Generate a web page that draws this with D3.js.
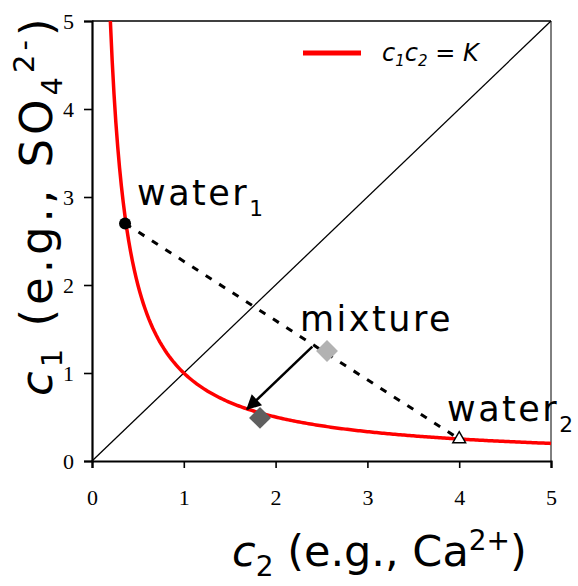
<!DOCTYPE html>
<html>
<head>
<meta charset="utf-8">
<script src="https://cdn.jsdelivr.net/npm/d3@7"></script>
<style>
  html, body { margin: 0; padding: 0; background: #fff; }
  svg { display: block; }
  .lbl { font-family: "Comic Sans MS", "DejaVu Sans", sans-serif; fill: #000; }
  svg g.tick text { font-family: "Liberation Serif", "Times New Roman", serif !important; font-size: 22px !important; fill: #000; }
</style>
</head>
<body>
<svg id="chart" width="578" height="586"></svg>
<script>
// Axis ticks
const xTicks = [0, 1, 2, 3, 4, 5];
const yTicks = [0, 1, 2, 3, 4, 5];

// Solubility product curve c1 * c2 = K
const K = 1;
const curveX = d3.range(0.2, 5.0001, 0.02);

// End-member waters and their mixture
const water1 = [0.36, 2.70];
const water2 = [4.0, 0.25];
const mixture = [2.56, 1.25];
const precipitated = [1.83, 0.49];
const arrowFrom = [2.40, 1.30];
const arrowTo = [1.69, 0.59];

const svg = d3.select("#chart");
const x = d3.scaleLinear().domain([0, 5]).range([92, 551]);
const y = d3.scaleLinear().domain([0, 5]).range([461, 21]);

// frame: top and right borders
svg.append("line").attr("x1", x(0)).attr("x2", x(5)).attr("y1", y(5)).attr("y2", y(5))
  .attr("stroke", "#000").attr("stroke-width", 1.5);
svg.append("line").attr("x1", x(5)).attr("x2", x(5)).attr("y1", y(0)).attr("y2", y(5))
  .attr("stroke", "#000").attr("stroke-width", 1);

// 1:1 line
svg.append("line").attr("x1", x(0)).attr("y1", y(0)).attr("x2", x(5)).attr("y2", y(5))
  .attr("stroke", "#000").attr("stroke-width", 1.3);

// axes
const xAxis = svg.append("g").attr("transform", `translate(0,${y(0)})`)
  .call(d3.axisBottom(x).tickValues(xTicks).tickSize(7).tickPadding(21).tickFormat(d3.format("d")));
const yAxis = svg.append("g").attr("transform", `translate(${x(0)},0)`)
  .call(d3.axisLeft(y).tickValues(yTicks).tickSize(8).tickPadding(10).tickFormat(d3.format("d")));
[xAxis, yAxis].forEach(g => {
  g.attr("font-family", "Liberation Serif").attr("font-size", 22);
  g.select(".domain").attr("stroke-width", 2.2);
  g.selectAll(".tick line").attr("stroke-width", 1.6);
  g.selectAll(".tick text")
    .attr("font-family", "Liberation Serif")
    .attr("font-size", 22)
    .attr("fill", "#000");
});

// mixing line between the two waters
svg.append("line")
  .attr("x1", x(water1[0])).attr("y1", y(water1[1]))
  .attr("x2", x(water2[0])).attr("y2", y(water2[1]))
  .attr("stroke", "#000").attr("stroke-width", 3).attr("stroke-dasharray", "7,9");

// K curve
const line = d3.line().x(d => x(d)).y(d => y(K / d));
svg.append("path").datum(curveX).attr("d", line)
  .attr("fill", "none").attr("stroke", "#ff0000").attr("stroke-width", 3.5);

// arrow from mixture to precipitated composition
svg.append("defs").append("marker")
  .attr("id", "ah").attr("viewBox", "0 0 10 10").attr("refX", 9).attr("refY", 5)
  .attr("markerWidth", 7).attr("markerHeight", 6).attr("orient", "auto")
  .attr("markerUnits", "strokeWidth")
  .append("path").attr("d", "M0,0 L10,5 L0,10 Z").attr("fill", "#000");
svg.append("line")
  .attr("x1", x(arrowFrom[0])).attr("y1", y(arrowFrom[1]))
  .attr("x2", x(arrowTo[0])).attr("y2", y(arrowTo[1]))
  .attr("stroke", "#000").attr("stroke-width", 2.5).attr("marker-end", "url(#ah)");

// points
const sym = d3.symbol();
svg.append("circle").attr("cx", x(water1[0])).attr("cy", y(water1[1])).attr("r", 6).attr("fill", "#000");
svg.append("path").attr("d", sym.type(d3.symbolSquare).size(240)())
  .attr("transform", `translate(${x(mixture[0])},${y(mixture[1])}) rotate(45)`)
  .attr("fill", "#b2b2b2");
svg.append("path").attr("d", sym.type(d3.symbolSquare).size(240)())
  .attr("transform", `translate(${x(precipitated[0])},${y(precipitated[1])}) rotate(45)`)
  .attr("fill", "#5f5f5f");
svg.append("path").attr("d", sym.type(d3.symbolTriangle).size(70)())
  .attr("transform", `translate(${x(water2[0])},${y(water2[1])})`)
  .attr("fill", "#fff").attr("stroke", "#000").attr("stroke-width", 1.5);

// legend
svg.append("line").attr("x1", 303).attr("x2", 361).attr("y1", 53).attr("y2", 53)
  .attr("stroke", "#ff0000").attr("stroke-width", 5);
const leg = svg.append("text").attr("class", "lbl").attr("x", 382).attr("y", 61)
  .attr("font-size", 24).attr("font-style", "italic");
leg.append("tspan").text("c");
leg.append("tspan").attr("font-size", 15).attr("dy", 5).text("1");
leg.append("tspan").attr("dy", -5).text("c");
leg.append("tspan").attr("font-size", 15).attr("dy", 5).text("2");
leg.append("tspan").attr("dy", -5).attr("font-style", "normal").text(" = ");
leg.append("tspan").text("K");

// point labels
function subLabel(tx, ty, main, sub, fs) {
  const t = svg.append("text").attr("class", "lbl").attr("x", tx).attr("y", ty)
    .attr("font-size", fs).attr("letter-spacing", 2.5);
  t.append("tspan").text(main);
  if (sub) t.append("tspan").attr("font-size", fs * 0.62).attr("dy", fs * 0.3).text(sub);
  return t;
}
subLabel(137, 205, "water", "1", 35);
subLabel(300, 331, "mixture", null, 35);
subLabel(447, 421, "water", "2", 35);

// axis titles
const xt = svg.append("text").attr("class", "lbl").attr("x", 232).attr("y", 566)
  .attr("font-size", 43);
xt.append("tspan").attr("font-style", "italic").text("c");
xt.append("tspan").attr("font-size", 28).attr("dy", 10).text("2");
xt.append("tspan").attr("dy", -10).text(" (e.g., Ca");
xt.append("tspan").attr("font-size", 28).attr("dy", -16).text("2+");
xt.append("tspan").attr("dy", 16).text(")");

const yt = svg.append("text").attr("class", "lbl")
  .attr("transform", "translate(52,396) rotate(-90)").attr("font-size", 45)
  .attr("letter-spacing", 4);
yt.append("tspan").attr("font-style", "italic").text("c");
yt.append("tspan").attr("font-size", 29).attr("dy", 10).text("1");
yt.append("tspan").attr("dy", -10).text(" (e.g., SO");
yt.append("tspan").attr("font-size", 29).attr("dy", 10).text("4");
yt.append("tspan").attr("font-size", 29).attr("dy", -28).text("2-");
yt.append("tspan").attr("dy", 18).text(")");
</script>
</body>
</html>
